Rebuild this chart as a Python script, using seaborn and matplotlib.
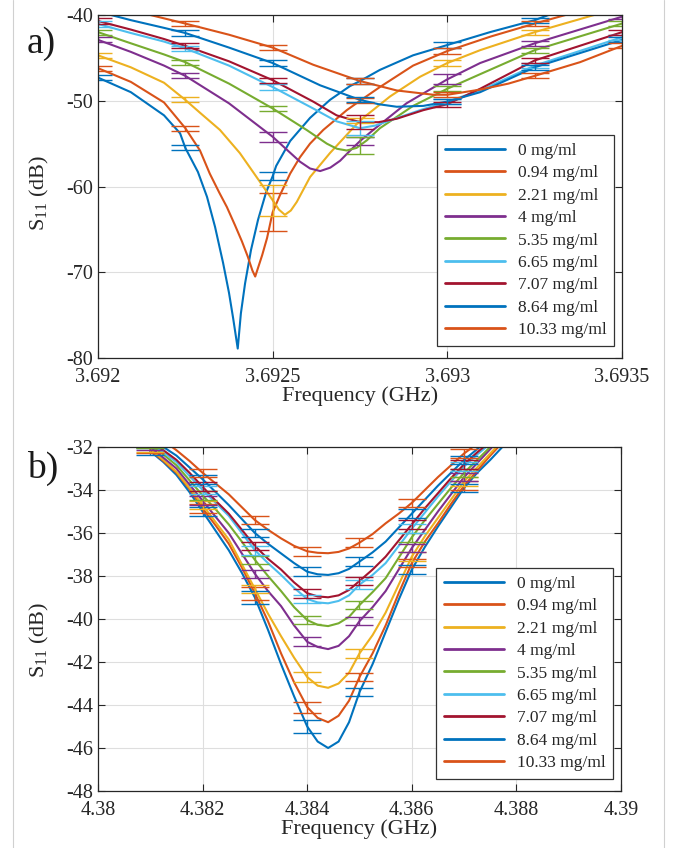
import numpy as np
import pandas as pd
import matplotlib
matplotlib.use("Agg")
import matplotlib.pyplot as plt
import seaborn as sns
from matplotlib.lines import Line2D

LABELS = ["0 mg/ml", "0.94 mg/ml", "2.21 mg/ml", "4 mg/ml", "5.35 mg/ml",
          "6.65 mg/ml", "7.07 mg/ml", "8.64 mg/ml", "10.33 mg/ml"]
COLORS = ["#0072BD", "#D95319", "#EDB120", "#7E2F8E", "#77AC30",
          "#4DBEEE", "#A2142F", "#0072BD", "#D95319"]

# ---- panel a: S11 around 3.6925 GHz (one list per concentration)
a_f0 = [3.692, 3.692094, 3.692189, 3.692235, 3.69225, 3.692286, 3.692312, 3.692335, 3.692358,
        3.692375, 3.692387, 3.6924, 3.692409, 3.692421, 3.692438, 3.692458, 3.692481, 3.6925,
        3.69251, 3.69255, 3.692607, 3.692664, 3.692721, 3.69275, 3.692807, 3.692902, 3.693,
        3.693122, 3.69325, 3.693323, 3.69335]
a_s0 = [-47.3, -49.0, -51.7, -53.8, -55.5, -58.3, -61.2, -64.7, -68.9,
        -72.4, -75.4, -78.9, -74.8, -71.3, -67.4, -63.9, -60.7, -58.8,
        -57.6, -54.7, -52.0, -49.9, -48.3, -47.7, -46.4, -44.7, -43.5,
        -42.0, -40.6, -39.5, -39.2]
a_f1 = [3.692, 3.692094, 3.692189, 3.69225, 3.692292, 3.69232, 3.692347, 3.692369, 3.692392,
        3.692412, 3.692429, 3.692442, 3.69245, 3.692458, 3.69247, 3.692484, 3.6925, 3.692521,
        3.69255, 3.692578, 3.692607, 3.692645, 3.692712, 3.69275, 3.692807, 3.692902, 3.693,
        3.693125, 3.69325, 3.6934]
a_s1 = [-46.2, -47.8, -50.2, -53.2, -55.8, -58.5, -60.7, -62.4, -64.5,
        -66.4, -68.2, -69.8, -70.5, -69.5, -68.0, -66.0, -63.0, -61.0,
        -58.5, -56.6, -55.0, -53.4, -51.1, -50.0, -48.4, -45.9, -44.2,
        -42.5, -41.0, -39.3]
a_f2 = [3.692, 3.692094, 3.692189, 3.69225, 3.692292, 3.692349, 3.692406, 3.692454, 3.6925,
        3.692518, 3.692535, 3.692552, 3.692569, 3.692607, 3.692664, 3.69275, 3.692836, 3.692922,
        3.693, 3.693094, 3.69325, 3.69342, 3.6935]
a_s2 = [-44.7, -46.1, -47.9, -49.9, -51.4, -53.4, -56.1, -58.9, -61.6,
        -62.7, -63.3, -62.8, -61.8, -58.9, -56.1, -52.3, -49.5, -47.2,
        -45.6, -44.1, -42.0, -40.0, -39.1]
a_f3 = [3.692, 3.692094, 3.692189, 3.69225, 3.692375, 3.6925, 3.692578, 3.692607, 3.692636,
        3.692665, 3.692693, 3.692722, 3.69275, 3.692788, 3.692883, 3.693, 3.693094, 3.69325,
        3.6935]
a_s3 = [-42.9, -44.3, -45.9, -47.1, -50.3, -54.2, -57.1, -57.9, -58.2,
        -57.8, -57.0, -55.8, -54.7, -53.4, -50.3, -47.5, -45.6, -43.3,
        -40.2]
a_f4 = [3.692, 3.692094, 3.692189, 3.69225, 3.692375, 3.6925, 3.692597, 3.692655, 3.692684,
        3.692712, 3.69274, 3.69277, 3.692807, 3.692902, 3.693, 3.693094, 3.69325, 3.6935]
a_s4 = [-42.0, -43.3, -44.6, -45.5, -48.0, -50.9, -53.4, -55.0, -55.6,
        -55.8, -55.5, -54.6, -53.2, -50.6, -48.6, -46.9, -44.1, -41.0]
a_f5 = [3.692, 3.692094, 3.692189, 3.69225, 3.692375, 3.6925, 3.692616, 3.692683, 3.69275,
        3.692793, 3.692836, 3.692922, 3.693, 3.693094, 3.69325, 3.6935]
a_s5 = [-41.05, -42.1, -43.1, -43.9, -45.9, -48.4, -50.9, -52.4, -53.2,
        -52.9, -52.3, -51.1, -50.1, -48.8, -45.9, -42.6]
a_f6 = [3.692, 3.692094, 3.692189, 3.69225, 3.692375, 3.6925, 3.692616, 3.692683, 3.69275,
        3.692803, 3.692855, 3.692931, 3.693, 3.693094, 3.69325, 3.6935]
a_s6 = [-40.7, -41.7, -42.8, -43.6, -45.4, -47.6, -50.1, -51.7, -52.5,
        -52.5, -52.1, -51.1, -50.4, -48.6, -45.3, -42.0]
a_f7 = [3.692, 3.692094, 3.692189, 3.69225, 3.692375, 3.6925, 3.692636, 3.69275, 3.692803,
        3.692855, 3.692931, 3.693, 3.693094, 3.69325, 3.6935]
a_s7 = [-39.6, -40.6, -41.5, -42.1, -43.8, -45.6, -48.2, -49.9, -50.4,
        -50.7, -50.6, -50.1, -49.0, -46.1, -42.9]
a_f8 = [3.692, 3.69225, 3.692375, 3.6925, 3.692616, 3.69275, 3.692855, 3.69296, 3.693,
        3.693094, 3.693175, 3.69325, 3.69338, 3.6935]
a_s8 = [-38.5, -41.0, -42.3, -43.8, -45.8, -47.7, -48.8, -49.3, -49.3,
        -48.7, -48.0, -47.1, -45.5, -43.6]

A_BAR_F = [3.692, 3.69225, 3.6925, 3.69275, 3.693, 3.69325, 3.6935]
a_e0 = [0.3, 0.3, 0.5, 0.3, 0.3, 0.3, 0.3]
a_e1 = [0.3, 0.3, 2.2, 0.3, 0.3, 0.3, 0.3]
a_e2 = [0.3, 0.3, 1.8, 0.3, 0.3, 0.3, 0.3]
a_e3 = [0.3, 0.3, 0.6, 0.5, 0.6, 0.3, 0.3]
a_e4 = [0.3, 0.3, 0.3, 1.0, 0.3, 0.3, 0.3]
a_e5 = [0.3, 0.3, 0.3, 0.8, 0.3, 0.3, 0.3]
a_e6 = [0.3, 0.3, 0.3, 0.8, 0.3, 0.3, 0.3]
a_e7 = [0.3, 0.3, 0.3, 0.3, 0.3, 0.3, 0.3]
a_e8 = [0.3, 0.3, 0.3, 0.3, 0.3, 0.3, 0.3]

A_XTICKS = [3.692, 3.6925, 3.693, 3.6935]
A_XTICKLABELS = ["3.692", "3.6925", "3.693", "3.6935"]
A_YTICKS = [-80, -70, -60, -50, -40]

# ---- panel b: S11 around 4.384 GHz, shared frequency grid
B_FREQ = [4.381, 4.38125, 4.3815, 4.38175, 4.382, 4.38225, 4.3825, 4.38275, 4.383, 4.38325,
          4.3835, 4.38375, 4.384, 4.3842, 4.3844, 4.3846, 4.3848, 4.385, 4.38525, 4.3855,
          4.38575, 4.386, 4.38625, 4.3865, 4.38675, 4.387, 4.38725, 4.3875, 4.388]
b_s0 = [-32.2, -32.7, -33.3, -34.1, -35.0, -35.9, -36.8, -37.85, -39.0, -40.5,
        -42.1, -43.6, -45.0, -45.7, -46.0, -45.7, -44.8, -43.4, -42.1, -40.6,
        -39.1, -37.7, -36.65, -35.7, -34.8, -33.9, -33.2, -32.6, -31.3]
b_s1 = [-32.15, -32.65, -33.2, -33.95, -34.85, -35.65, -36.5, -37.6, -38.8, -40.1,
        -41.6, -42.95, -44.1, -44.6, -44.8, -44.5, -43.8, -42.7, -41.6, -40.3,
        -38.8, -37.4, -36.4, -35.55, -34.65, -33.8, -33.1, -32.4, -31.1]
b_s2 = [-32.1, -32.6, -33.15, -33.9, -34.7, -35.5, -36.3, -37.45, -38.6, -39.75,
        -40.8, -41.8, -42.7, -43.1, -43.2, -43.0, -42.5, -41.6, -40.75, -39.7,
        -38.4, -37.1, -36.15, -35.3, -34.45, -33.6, -32.95, -32.3, -31.0]
b_s3 = [-32.0, -32.5, -33.0, -33.75, -34.5, -35.25, -36.0, -36.95, -37.9, -38.7,
        -39.4, -40.3, -41.06, -41.3, -41.4, -41.25, -40.8, -40.1, -39.45, -38.7,
        -37.7, -36.7, -35.85, -35.0, -34.2, -33.4, -32.75, -32.1, -30.8]
b_s4 = [-31.9, -32.35, -32.85, -33.55, -34.25, -34.9, -35.6, -36.4, -37.25, -38.0,
        -38.7, -39.45, -40.05, -40.27, -40.33, -40.2, -39.9, -39.35, -38.75, -38.1,
        -37.15, -36.2, -35.4, -34.65, -33.9, -33.2, -32.6, -32.0, -30.7]
b_s5 = [-31.8, -32.25, -32.7, -33.35, -34.0, -34.6, -35.2, -36.0, -36.8, -37.4,
        -37.95, -38.55, -39.07, -39.23, -39.27, -39.16, -38.9, -38.4, -37.95, -37.4,
        -36.6, -35.8, -35.05, -34.3, -33.6, -32.9, -32.35, -31.85, -30.6]
b_s6 = [-31.75, -32.15, -32.6, -33.2, -33.85, -34.5, -35.1, -35.85, -36.6, -37.2,
        -37.7, -38.3, -38.8, -38.95, -38.99, -38.9, -38.65, -38.23, -37.7, -37.1,
        -36.35, -35.6, -34.85, -34.15, -33.45, -32.8, -32.25, -31.75, -30.5]
b_s7 = [-31.6, -32.0, -32.4, -32.95, -33.5, -34.1, -34.7, -35.35, -36.0, -36.5,
        -36.95, -37.4, -37.8, -37.92, -37.95, -37.87, -37.67, -37.33, -36.9, -36.4,
        -35.75, -35.1, -34.45, -33.8, -33.2, -32.6, -32.1, -31.6, -30.3]
b_s8 = [-31.3, -31.7, -32.15, -32.65, -33.2, -33.7, -34.2, -34.8, -35.4, -35.85,
        -36.25, -36.6, -36.85, -36.92, -36.94, -36.88, -36.72, -36.45, -36.05, -35.55,
        -35.1, -34.6, -34.0, -33.4, -32.85, -32.3, -31.85, -31.4, -30.1]

B_BAR_F = [4.381, 4.382, 4.383, 4.384, 4.385, 4.386, 4.387]
b_e0 = [0.15, 0.2, 0.3, 0.3, 0.2, 0.2, 0.2]
b_e1 = [0.15, 0.2, 0.3, 0.25, 0.2, 0.2, 0.2]
b_e2 = [0.15, 0.2, 0.2, 0.25, 0.2, 0.2, 0.2]
b_e3 = [0.15, 0.2, 0.2, 0.2, 0.2, 0.2, 0.2]
b_e4 = [0.15, 0.2, 0.2, 0.2, 0.2, 0.2, 0.2]
b_e5 = [0.15, 0.2, 0.2, 0.2, 0.2, 0.2, 0.2]
b_e6 = [0.15, 0.2, 0.2, 0.2, 0.2, 0.2, 0.2]
b_e7 = [0.15, 0.2, 0.2, 0.2, 0.2, 0.2, 0.2]
b_e8 = [0.15, 0.2, 0.2, 0.2, 0.2, 0.2, 0.2]

B_XTICKS = [4.38, 4.382, 4.384, 4.386, 4.388, 4.39]
B_XTICKLABELS = ["4.38", "4.382", "4.384", "4.386", "4.388", "4.39"]
B_YTICKS = [-48, -46, -44, -42, -40, -38, -36, -34, -32]

a_curves = [(a_f0, a_s0, a_e0), (a_f1, a_s1, a_e1), (a_f2, a_s2, a_e2),
            (a_f3, a_s3, a_e3), (a_f4, a_s4, a_e4), (a_f5, a_s5, a_e5),
            (a_f6, a_s6, a_e6), (a_f7, a_s7, a_e7), (a_f8, a_s8, a_e8)]
b_curves = [(B_FREQ, b_s0, b_e0), (B_FREQ, b_s1, b_e1), (B_FREQ, b_s2, b_e2),
            (B_FREQ, b_s3, b_e3), (B_FREQ, b_s4, b_e4), (B_FREQ, b_s5, b_e5),
            (B_FREQ, b_s6, b_e6), (B_FREQ, b_s7, b_e7), (B_FREQ, b_s8, b_e8)]

sns.set_style("ticks")
plt.rcParams["font.family"] = ["Liberation Serif", "DejaVu Serif"]
plt.rcParams["mathtext.fontset"] = "custom"
plt.rcParams["mathtext.rm"] = "Liberation Serif"
plt.rcParams["mathtext.it"] = "Liberation Serif:italic"
plt.rcParams["axes.unicode_minus"] = False


def long_table(curves):
    rows = []
    for label, (f, s, _) in zip(LABELS, curves):
        rows.append(pd.DataFrame({"freq": f, "s11": s, "conc": label}))
    return pd.concat(rows, ignore_index=True)


def draw_panel(ax, curves, bar_f, xlim, ylim, xticks, xticklabels, yticks):
    df = long_table(curves)
    sns.lineplot(data=df, x="freq", y="s11", hue="conc", hue_order=LABELS,
                 palette=COLORS, estimator=None, linewidth=1.5, ax=ax)
    for color, (f, s, e) in zip(COLORS, curves):
        keep = [i for i, x in enumerate(bar_f) if f[0] - 1e-9 <= x <= f[-1] + 1e-9]
        bf = np.array([bar_f[i] for i in keep])
        be = np.array([e[i] for i in keep])
        bv = np.interp(bf, f, s)
        ax.errorbar(bf, bv, yerr=be, fmt="none", ecolor=color,
                    elinewidth=1.0, capsize=10, capthick=1.0)
    ax.set_xlim(*xlim)
    ax.set_ylim(*ylim)
    ax.set_xticks(xticks)
    ax.set_xticklabels(xticklabels)
    ax.set_yticks(yticks)
    ax.set_yticklabels([str(t) for t in yticks])
    ax.grid(True, color="#dedede", linewidth=0.8)
    ax.tick_params(direction="in", top=True, right=True, length=5, width=0.8,
                   labelsize=14.5, colors="#262626")
    ax.tick_params(axis="x", pad=7)
    for sp in ax.spines.values():
        sp.set_color("#262626")
        sp.set_linewidth(0.9)
    ax.set_xlabel("Frequency (GHz)", fontsize=16, color="#262626", labelpad=0)
    ax.set_ylabel("S$_{11}$ (dB)", fontsize=16, color="#262626")
    handles, labels = ax.get_legend_handles_labels()
    leg = ax.legend(handles[:9], labels[:9], loc="lower right",
                    bbox_to_anchor=(0.985, 0.035), borderaxespad=0,
                    fontsize=12.5, handlelength=3.5, handletextpad=0.7,
                    labelspacing=0.36, borderpad=0.45, fancybox=False,
                    framealpha=1, edgecolor="#333333")
    leg.get_frame().set_linewidth(0.9)
    for h in leg.get_lines():
        h.set_linewidth(2.0)


fig = plt.figure(figsize=(6.77, 8.48), dpi=100)
ax_a = fig.add_axes([98 / 677, 1 - 358 / 848, 524 / 677, 343 / 848])
ax_b = fig.add_axes([98 / 677, 1 - 791 / 848, 523 / 677, 344 / 848])

draw_panel(ax_a, a_curves, A_BAR_F, (3.692, 3.6935), (-80, -40),
           A_XTICKS, A_XTICKLABELS, A_YTICKS)
draw_panel(ax_b, b_curves, B_BAR_F, (4.38, 4.39), (-48, -32),
           B_XTICKS, B_XTICKLABELS, B_YTICKS)
ax_a.yaxis.set_label_coords(-0.09, 0.48)
ax_b.yaxis.set_label_coords(-0.09, 0.44)

fig.text(27 / 677, 1 - 44 / 848, "a)", fontsize=27, va="center", ha="left", color="#1a1a1a")
fig.text(27 / 677, 1 - 468 / 848, "b)", fontsize=27, va="center", ha="left", color="#1a1a1a")

for xpix in (13, 664):
    fig.add_artist(Line2D([xpix / 677] * 2, [0, 1], transform=fig.transFigure,
                          color="#d0d0d0", linewidth=0.8))

fig.savefig("out.png", dpi=100, facecolor="white")
